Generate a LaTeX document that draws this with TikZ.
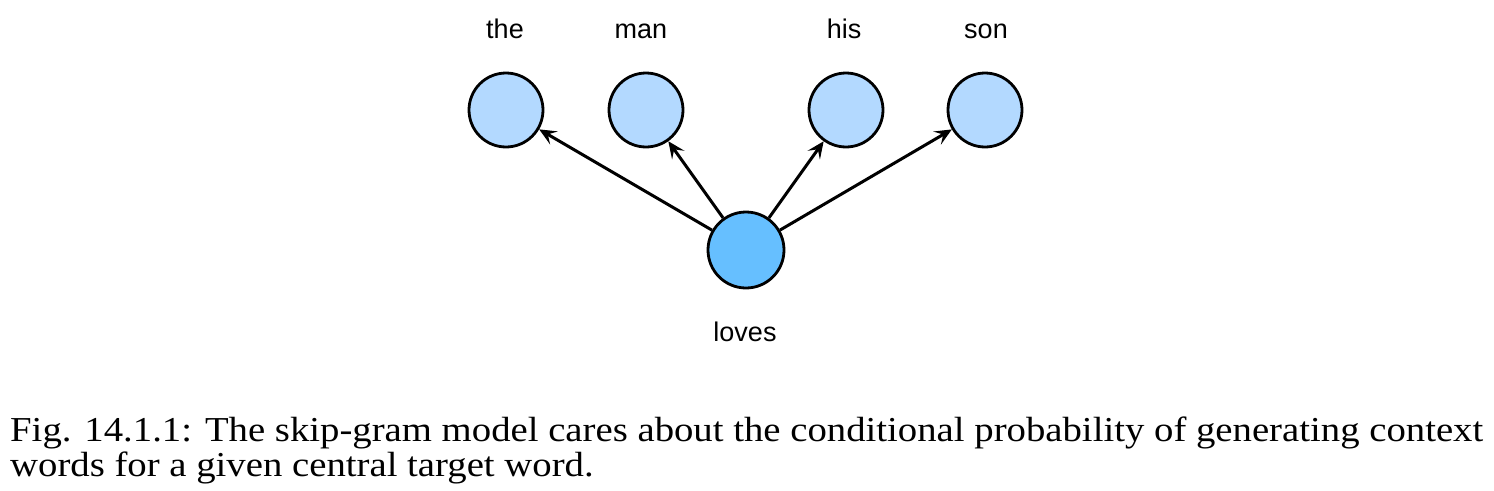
\documentclass[tikz,border=0pt]{standalone}
\usepackage{fontspec}
\setmainfont[FakeStretch=1.107]{Liberation Serif}
\newfontfamily\labelfont{Liberation Sans}
\usetikzlibrary{arrows.meta}
\definecolor{ctxfill}{RGB}{179,217,255}
\definecolor{cenfill}{RGB}{102,191,255}
\begin{document}
\begin{tikzpicture}[x=1pt,y=-1pt,
  ctx/.style={circle,draw=black,line width=2.8pt,fill=ctxfill,minimum size=74pt,inner sep=0pt},
  cen/.style={circle,draw=black,line width=2.8pt,fill=cenfill,minimum size=76pt,inner sep=0pt},
  word/.style={font=\labelfont\fontsize{27}{32}\selectfont,inner sep=0pt,anchor=base},
  captext/.style={font=\fontsize{35}{40}\selectfont,inner sep=0pt,anchor=base west},
  arr/.style={line width=3pt,-{Stealth[length=17pt,width=15pt,inset=7pt]}}]
\useasboundingbox (0,0) rectangle (1494,490);
\node[ctx] (the) at (506,110) {};
\node[ctx] (man) at (646,110) {};
\node[ctx] (his) at (846,110) {};
\node[ctx] (son) at (985,110) {};
\node[cen] (loves) at (746,250) {};
\node[word] (tthe) at (505,38) {the};
\node[word] (tman) at (641,38) {man};
\node[word] (this) at (844,38) {his};
\node[word] (tson) at (986,38) {son};
\node[word] (tloves) at (745,341) {loves};
\draw[arr] (loves) -- (the);
\draw[arr] (loves) -- (man);
\draw[arr] (loves) -- (his);
\draw[arr] (loves) -- (son);
\node[captext] (c1) at (10,441) {Fig. 14.1.1: The skip-gram model cares about the conditional probability of generating context};
\node[captext] (c2) at (10,476) {words for a given central target word.};
\end{tikzpicture}
\end{document}
